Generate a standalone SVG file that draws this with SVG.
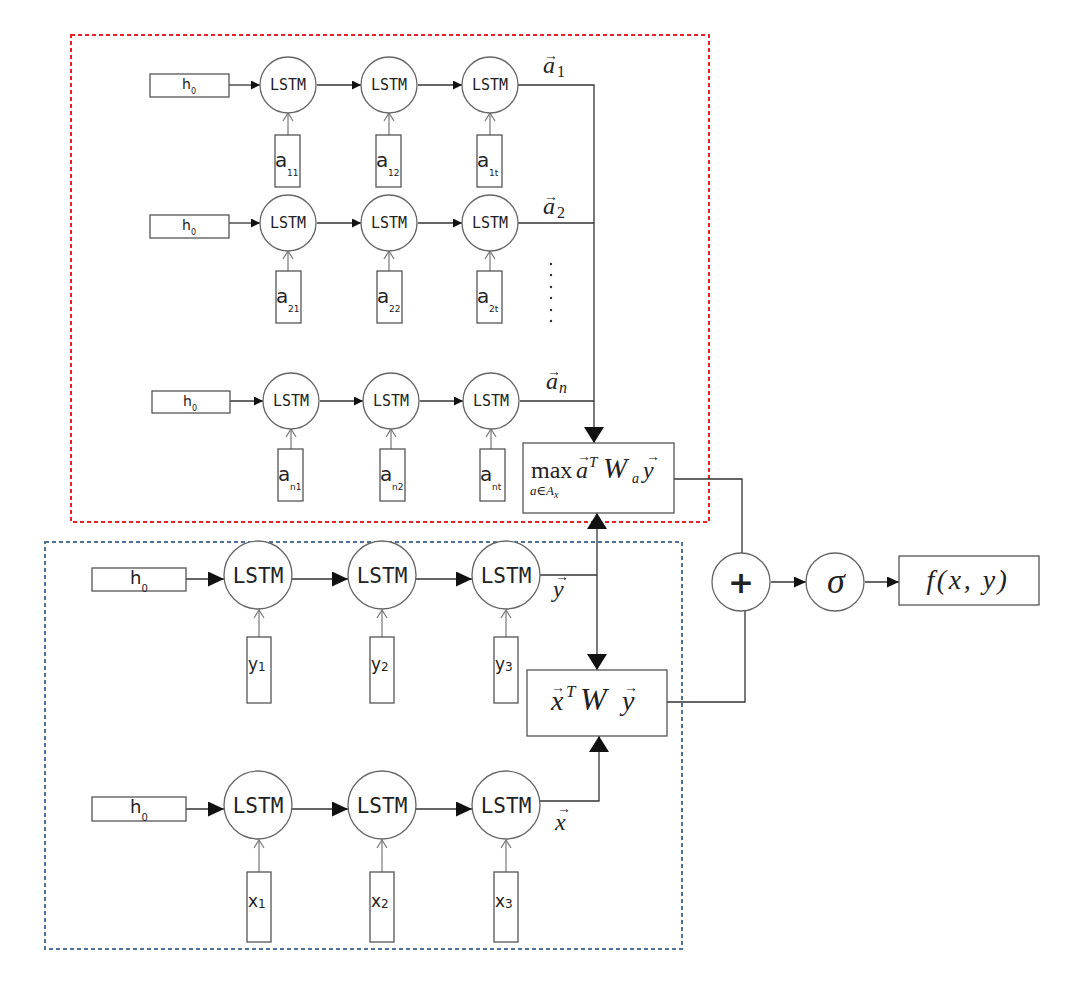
<svg xmlns="http://www.w3.org/2000/svg" width="1080" height="984" viewBox="0 0 1080 984">
<style>
.bg{fill:#fff}
.box{fill:#fff;stroke:#555;stroke-width:1.3}
.cir{fill:#fff;stroke:#666;stroke-width:1.3}
.ln{fill:none;stroke:#333;stroke-width:1.3}
.in{fill:none;stroke:#777;stroke-width:1.2}
.lstmS{font-family:"DejaVu Sans Mono",monospace;font-size:15px;fill:#222;text-anchor:middle}
.lstmL{font-family:"DejaVu Sans Mono",monospace;font-size:21px;fill:#222;text-anchor:middle}
.sans{font-family:"DejaVu Sans",sans-serif;fill:#222}
.math{font-family:"Liberation Serif","DejaVu Serif",serif;font-style:italic;fill:#222}
.rm{font-family:"Liberation Serif","DejaVu Serif",serif;fill:#222}
.v{font-style:normal;font-size:14px}
.redd{fill:none;stroke:#e8202a;stroke-width:2;stroke-dasharray:4 3}
.blued{fill:none;stroke:#4f7398;stroke-width:2;stroke-dasharray:4 3}
</style>
<defs>
<marker id="sA" markerWidth="10" markerHeight="9" refX="9" refY="4.5" orient="auto" markerUnits="userSpaceOnUse"><path d="M0,0 L9,4.5 L0,9 z" fill="#111"/></marker>
<marker id="mA" markerWidth="16" markerHeight="15" refX="16" refY="7.5" orient="auto" markerUnits="userSpaceOnUse"><path d="M0,0 L16,7.5 L0,15 z" fill="#111"/></marker>
<marker id="bA" markerWidth="16" markerHeight="20" refX="16" refY="10" orient="auto" markerUnits="userSpaceOnUse"><path d="M0,0 L16,10 L0,20 z" fill="#111"/></marker>
<marker id="oA" markerWidth="10" markerHeight="12" refX="9" refY="6" orient="auto" markerUnits="userSpaceOnUse"><path d="M1,1 L9,6 L1,11" fill="none" stroke="#777" stroke-width="1.2"/></marker>
<marker id="cA" markerWidth="12" markerHeight="11" refX="12" refY="5.5" orient="auto" markerUnits="userSpaceOnUse"><path d="M0,0 L12,5.5 L0,11 z" fill="#111"/></marker>
</defs>
<rect class="bg" x="0" y="0" width="1080" height="984"/>

<!-- group frames -->
<rect class="redd" x="71" y="35" width="638" height="487"/>
<rect class="blued" x="45" y="542" width="637" height="407"/>

<!-- connectors -->
<g id="connectors">
 <line class="ln" x1="229" y1="85" x2="260" y2="85" marker-end="url(#sA)"/>
 <line class="ln" x1="317" y1="85" x2="361" y2="85" marker-end="url(#sA)"/>
 <line class="ln" x1="418" y1="85" x2="462" y2="85" marker-end="url(#sA)"/>
 <line class="in" x1="288" y1="135" x2="288" y2="113" marker-end="url(#oA)"/>
 <line class="in" x1="389" y1="135" x2="389" y2="113" marker-end="url(#oA)"/>
 <line class="in" x1="490" y1="135" x2="490" y2="113" marker-end="url(#oA)"/>
 <polyline class="ln" points="518,85 594,85 594,443" marker-end="url(#bA)"/>
 <line class="ln" x1="229" y1="223" x2="260" y2="223" marker-end="url(#sA)"/>
 <line class="ln" x1="317" y1="223" x2="361" y2="223" marker-end="url(#sA)"/>
 <line class="ln" x1="418" y1="223" x2="462" y2="223" marker-end="url(#sA)"/>
 <line class="in" x1="288" y1="271" x2="288" y2="251" marker-end="url(#oA)"/>
 <line class="in" x1="389" y1="271" x2="389" y2="251" marker-end="url(#oA)"/>
 <line class="in" x1="490" y1="271" x2="490" y2="251" marker-end="url(#oA)"/>
 <line class="ln" x1="518" y1="223" x2="594" y2="223"/>
 <line class="ln" x1="230" y1="401" x2="263" y2="401" marker-end="url(#sA)"/>
 <line class="ln" x1="320" y1="401" x2="363" y2="401" marker-end="url(#sA)"/>
 <line class="ln" x1="420" y1="401" x2="463" y2="401" marker-end="url(#sA)"/>
 <line class="in" x1="291" y1="449" x2="291" y2="429" marker-end="url(#oA)"/>
 <line class="in" x1="391" y1="449" x2="391" y2="429" marker-end="url(#oA)"/>
 <line class="in" x1="491" y1="449" x2="491" y2="429" marker-end="url(#oA)"/>
 <line class="ln" x1="520" y1="401" x2="594" y2="401"/>
 <line class="ln" x1="186" y1="579" x2="224" y2="579" marker-end="url(#mA)"/>
 <line class="ln" x1="292" y1="579" x2="348" y2="579" marker-end="url(#mA)"/>
 <line class="ln" x1="416" y1="579" x2="472" y2="579" marker-end="url(#mA)"/>
 <line class="in" x1="259" y1="637" x2="259" y2="610" marker-end="url(#oA)"/>
 <line class="in" x1="382" y1="637" x2="382" y2="610" marker-end="url(#oA)"/>
 <line class="in" x1="506" y1="637" x2="506" y2="610" marker-end="url(#oA)"/>
 <line class="ln" x1="540" y1="575" x2="597" y2="575"/>
 <line class="ln" x1="597" y1="575" x2="597" y2="513" marker-end="url(#bA)"/>
 <line class="ln" x1="597" y1="575" x2="597" y2="670" marker-end="url(#bA)"/>
 <line class="ln" x1="186" y1="809" x2="224" y2="809" marker-end="url(#mA)"/>
 <line class="ln" x1="292" y1="809" x2="348" y2="809" marker-end="url(#mA)"/>
 <line class="ln" x1="416" y1="809" x2="472" y2="809" marker-end="url(#mA)"/>
 <line class="in" x1="259" y1="872" x2="259" y2="840" marker-end="url(#oA)"/>
 <line class="in" x1="382" y1="872" x2="382" y2="840" marker-end="url(#oA)"/>
 <line class="in" x1="506" y1="872" x2="506" y2="840" marker-end="url(#oA)"/>
 <polyline class="ln" points="540,801 599,801 599,736" marker-end="url(#bA)"/>
 <polyline class="ln" points="674,479 742,479 742,553"/>
 <polyline class="ln" points="667,702 745,702 745,611"/>
 <line class="ln" x1="771" y1="582" x2="806" y2="582" marker-end="url(#cA)"/>
 <line class="ln" x1="865" y1="582" x2="899" y2="582" marker-end="url(#cA)"/>
</g>

<!-- Row 1 -->
<g id="h0_r1"><rect class="box" x="150" y="74" width="79" height="23"/><text class="sans" x="182" y="89" font-size="14">h<tspan font-size="8" dy="5">0</tspan></text></g>
<g id="lstm_11"><circle class="cir" cx="288" cy="85" r="28"/><text class="lstmS" x="288" y="90">LSTM</text></g>
<g id="lstm_12"><circle class="cir" cx="389" cy="85" r="28"/><text class="lstmS" x="389" y="90">LSTM</text></g>
<g id="lstm_13"><circle class="cir" cx="490" cy="85" r="28"/><text class="lstmS" x="490" y="90">LSTM</text></g>
<g id="in_a11"><rect class="box" x="275" y="135" width="25" height="52"/><text class="sans" x="275" y="167" font-size="20">a<tspan x="287" y="176" font-size="9">11</tspan></text></g>
<g id="in_a12"><rect class="box" x="376" y="135" width="25" height="52"/><text class="sans" x="376" y="167" font-size="20">a<tspan x="388" y="176" font-size="9">12</tspan></text></g>
<g id="in_a1t"><rect class="box" x="477" y="135" width="25" height="52"/><text class="sans" x="477" y="167" font-size="20">a<tspan x="489" y="176" font-size="9">1t</tspan></text></g>
<g id="lab_a1"><text class="math" font-size="24"><tspan class="v" x="544" y="60">→</tspan><tspan x="543" y="73">a</tspan><tspan font-style="normal" font-size="16" x="557" y="77">1</tspan></text></g>

<!-- Row 2 -->
<g id="h0_r2"><rect class="box" x="150" y="215" width="79" height="23"/><text class="sans" x="182" y="230" font-size="14">h<tspan font-size="8" dy="5">0</tspan></text></g>
<g id="lstm_21"><circle class="cir" cx="288" cy="223" r="28"/><text class="lstmS" x="288" y="228">LSTM</text></g>
<g id="lstm_22"><circle class="cir" cx="389" cy="223" r="28"/><text class="lstmS" x="389" y="228">LSTM</text></g>
<g id="lstm_23"><circle class="cir" cx="490" cy="223" r="28"/><text class="lstmS" x="490" y="228">LSTM</text></g>
<g id="in_a21"><rect class="box" x="276" y="271" width="25" height="52"/><text class="sans" x="276" y="303" font-size="20">a<tspan x="288" y="312" font-size="9">21</tspan></text></g>
<g id="in_a22"><rect class="box" x="377" y="271" width="25" height="52"/><text class="sans" x="377" y="303" font-size="20">a<tspan x="389" y="312" font-size="9">22</tspan></text></g>
<g id="in_a2t"><rect class="box" x="477" y="271" width="25" height="52"/><text class="sans" x="477" y="303" font-size="20">a<tspan x="489" y="312" font-size="9">2t</tspan></text></g>
<g id="lab_a2"><text class="math" font-size="24"><tspan class="v" x="544" y="201">→</tspan><tspan x="543" y="214">a</tspan><tspan font-style="normal" font-size="16" x="557" y="218">2</tspan></text></g>
<g id="dots" fill="#333"><circle cx="551" cy="264" r="1.2"/><circle cx="551" cy="275" r="1.2"/><circle cx="551" cy="287" r="1.2"/><circle cx="551" cy="298" r="1.2"/><circle cx="551" cy="310" r="1.2"/><circle cx="551" cy="321" r="1.2"/></g>

<!-- Row 3 -->
<g id="h0_r3"><rect class="box" x="152" y="391" width="78" height="22"/><text class="sans" x="183" y="406" font-size="14">h<tspan font-size="8" dy="5">0</tspan></text></g>
<g id="lstm_n1"><circle class="cir" cx="291" cy="401" r="28"/><text class="lstmS" x="291" y="406">LSTM</text></g>
<g id="lstm_n2"><circle class="cir" cx="391" cy="401" r="28"/><text class="lstmS" x="391" y="406">LSTM</text></g>
<g id="lstm_n3"><circle class="cir" cx="491" cy="401" r="28"/><text class="lstmS" x="491" y="406">LSTM</text></g>
<g id="in_an1"><rect class="box" x="278" y="449" width="25" height="52"/><text class="sans" x="278" y="481" font-size="20">a<tspan x="290" y="490" font-size="9">n1</tspan></text></g>
<g id="in_an2"><rect class="box" x="380" y="449" width="25" height="52"/><text class="sans" x="380" y="481" font-size="20">a<tspan x="392" y="490" font-size="9">n2</tspan></text></g>
<g id="in_ant"><rect class="box" x="480" y="449" width="25" height="52"/><text class="sans" x="480" y="481" font-size="20">a<tspan x="492" y="490" font-size="9">nt</tspan></text></g>
<g id="lab_an"><text class="math" font-size="24"><tspan class="v" x="547" y="376">→</tspan><tspan x="546" y="389">a</tspan><tspan font-size="16" x="559" y="393">n</tspan></text></g>

<!-- max box -->
<g id="maxbox"><rect class="box" x="523" y="443" width="151" height="70"/>
<text class="rm" x="531" y="478" font-size="24">max</text>
<text class="math" x="530" y="495" font-size="13">a∈A<tspan font-size="10" dy="3">x</tspan></text>
<text class="math" font-size="24"><tspan class="v" x="577" y="461">→</tspan><tspan x="576" y="478">a</tspan><tspan font-size="15" x="589" y="467">T</tspan><tspan font-size="29" x="603" y="478">W</tspan><tspan font-size="14" x="632" y="483">a</tspan><tspan class="v" x="646" y="461">→</tspan><tspan x="643" y="478">y</tspan></text>
</g>

<!-- y row -->
<g id="h0_y"><rect class="box" x="92" y="568" width="94" height="23"/><text class="sans" x="130" y="584" font-size="18">h<tspan font-size="10" dy="8">0</tspan></text></g>
<g id="lstm_y1"><circle class="cir" cx="258" cy="575" r="34"/><text class="lstmL" x="258" y="583">LSTM</text></g>
<g id="lstm_y2"><circle class="cir" cx="382" cy="575" r="34"/><text class="lstmL" x="382" y="583">LSTM</text></g>
<g id="lstm_y3"><circle class="cir" cx="506" cy="575" r="34"/><text class="lstmL" x="506" y="583">LSTM</text></g>
<g id="in_y1"><rect class="box" x="247" y="637" width="24" height="66"/><text class="sans" x="248" y="670" font-size="17">y<tspan font-size="12" dy="1">1</tspan></text></g>
<g id="in_y2"><rect class="box" x="370" y="637" width="24" height="66"/><text class="sans" x="371" y="670" font-size="17">y<tspan font-size="12" dy="1">2</tspan></text></g>
<g id="in_y3"><rect class="box" x="494" y="637" width="24" height="66"/><text class="sans" x="495" y="670" font-size="17">y<tspan font-size="12" dy="1">3</tspan></text></g>
<g id="lab_y"><text class="math" font-size="24"><tspan class="v" x="555" y="581">→</tspan><tspan x="553" y="597">y</tspan></text></g>

<!-- xWy box -->
<g id="xwybox"><rect class="box" x="527" y="670" width="140" height="66"/>
<text class="math" font-size="28"><tspan class="v" font-size="16" x="551" y="692">→</tspan><tspan x="551" y="710">x</tspan><tspan font-size="17" x="566" y="697">T</tspan><tspan font-size="32" x="580" y="710">W</tspan><tspan class="v" font-size="16" x="624" y="692">→</tspan><tspan x="622" y="710">y</tspan></text>
</g>

<!-- x row -->
<g id="h0_x"><rect class="box" x="92" y="797" width="94" height="24"/><text class="sans" x="130" y="813" font-size="18">h<tspan font-size="10" dy="8">0</tspan></text></g>
<g id="lstm_x1"><circle class="cir" cx="258" cy="805" r="34"/><text class="lstmL" x="258" y="813">LSTM</text></g>
<g id="lstm_x2"><circle class="cir" cx="382" cy="805" r="34"/><text class="lstmL" x="382" y="813">LSTM</text></g>
<g id="lstm_x3"><circle class="cir" cx="506" cy="805" r="34"/><text class="lstmL" x="506" y="813">LSTM</text></g>
<g id="in_x1"><rect class="box" x="247" y="872" width="24" height="70"/><text class="sans" x="248" y="907" font-size="17">x<tspan font-size="12" dy="1">1</tspan></text></g>
<g id="in_x2"><rect class="box" x="370" y="872" width="24" height="70"/><text class="sans" x="371" y="907" font-size="17">x<tspan font-size="12" dy="1">2</tspan></text></g>
<g id="in_x3"><rect class="box" x="494" y="872" width="24" height="70"/><text class="sans" x="495" y="907" font-size="17">x<tspan font-size="12" dy="1">3</tspan></text></g>
<g id="lab_x"><text class="math" font-size="24"><tspan class="v" x="557" y="813">→</tspan><tspan x="555" y="830">x</tspan></text></g>

<!-- output -->
<g id="plus"><circle class="cir" cx="741" cy="582" r="29"/><text class="sans" x="741" y="593" font-size="31" font-weight="bold" text-anchor="middle">+</text></g>
<g id="sigma"><circle class="cir" cx="835" cy="582" r="29"/><text class="math" x="836" y="593" font-size="36" text-anchor="middle">σ</text></g>
<g id="fxy"><rect class="box" x="899" y="556" width="140" height="49"/><text class="math" x="968" y="589" font-size="28" letter-spacing="2.5" text-anchor="middle">f(x, y)</text></g>
</svg>
